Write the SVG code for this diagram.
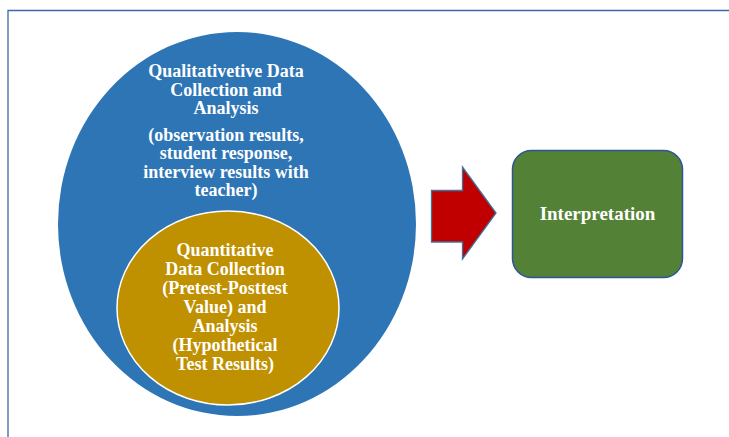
<svg xmlns="http://www.w3.org/2000/svg" width="729" height="437" viewBox="0 0 729 437">
<style>
.t{font-family:"Liberation Serif","Times New Roman",serif;font-weight:bold;font-size:18px;fill:#ffffff;text-anchor:middle}
</style>
<rect width="729" height="437" fill="#ffffff"/>
<path d="M8 440 V10.5 H735" fill="none" stroke="#3F66A6" stroke-width="1.3"/>
<g id="qualitative">
<ellipse cx="237" cy="224" rx="179" ry="192" fill="#2E75B6"/>
<text class="t" x="226" y="77">Qualitativetive Data</text>
<text class="t" x="226" y="95.5">Collection and</text>
<text class="t" x="226" y="114">Analysis</text>
<text class="t" x="226" y="140.5">(observation results,</text>
<text class="t" x="226" y="159">student response,</text>
<text class="t" x="226" y="177.5">interview results with</text>
<text class="t" x="226" y="196">teacher)</text>
</g>
<g id="quantitative">
<ellipse cx="228" cy="308" rx="111" ry="97" fill="#BF9000" stroke="#ffffff" stroke-width="1.5"/>
<text class="t" x="225" y="256">Quantitative</text>
<text class="t" x="225" y="275">Data Collection</text>
<text class="t" x="225" y="294">(Pretest-Posttest</text>
<text class="t" x="225" y="313">Value) and</text>
<text class="t" x="225" y="332">Analysis</text>
<text class="t" x="225" y="351">(Hypothetical</text>
<text class="t" x="225" y="370">Test Results)</text>
</g>
<g id="connectors">
<path d="M431.5 190.5 H462.5 V167 L496 213 L462.5 259 V242 H431.5 Z" fill="#C00000" stroke="#41719C" stroke-width="1.3" stroke-linejoin="miter"/>
</g>
<g id="interpretation">
<rect x="512.5" y="150.5" width="170" height="127" rx="19" ry="19" fill="#538135" stroke="#2F5597" stroke-width="1.5"/>
<text class="t" x="597.5" y="220" style="font-size:19px">Interpretation</text>
</g>
</svg>
